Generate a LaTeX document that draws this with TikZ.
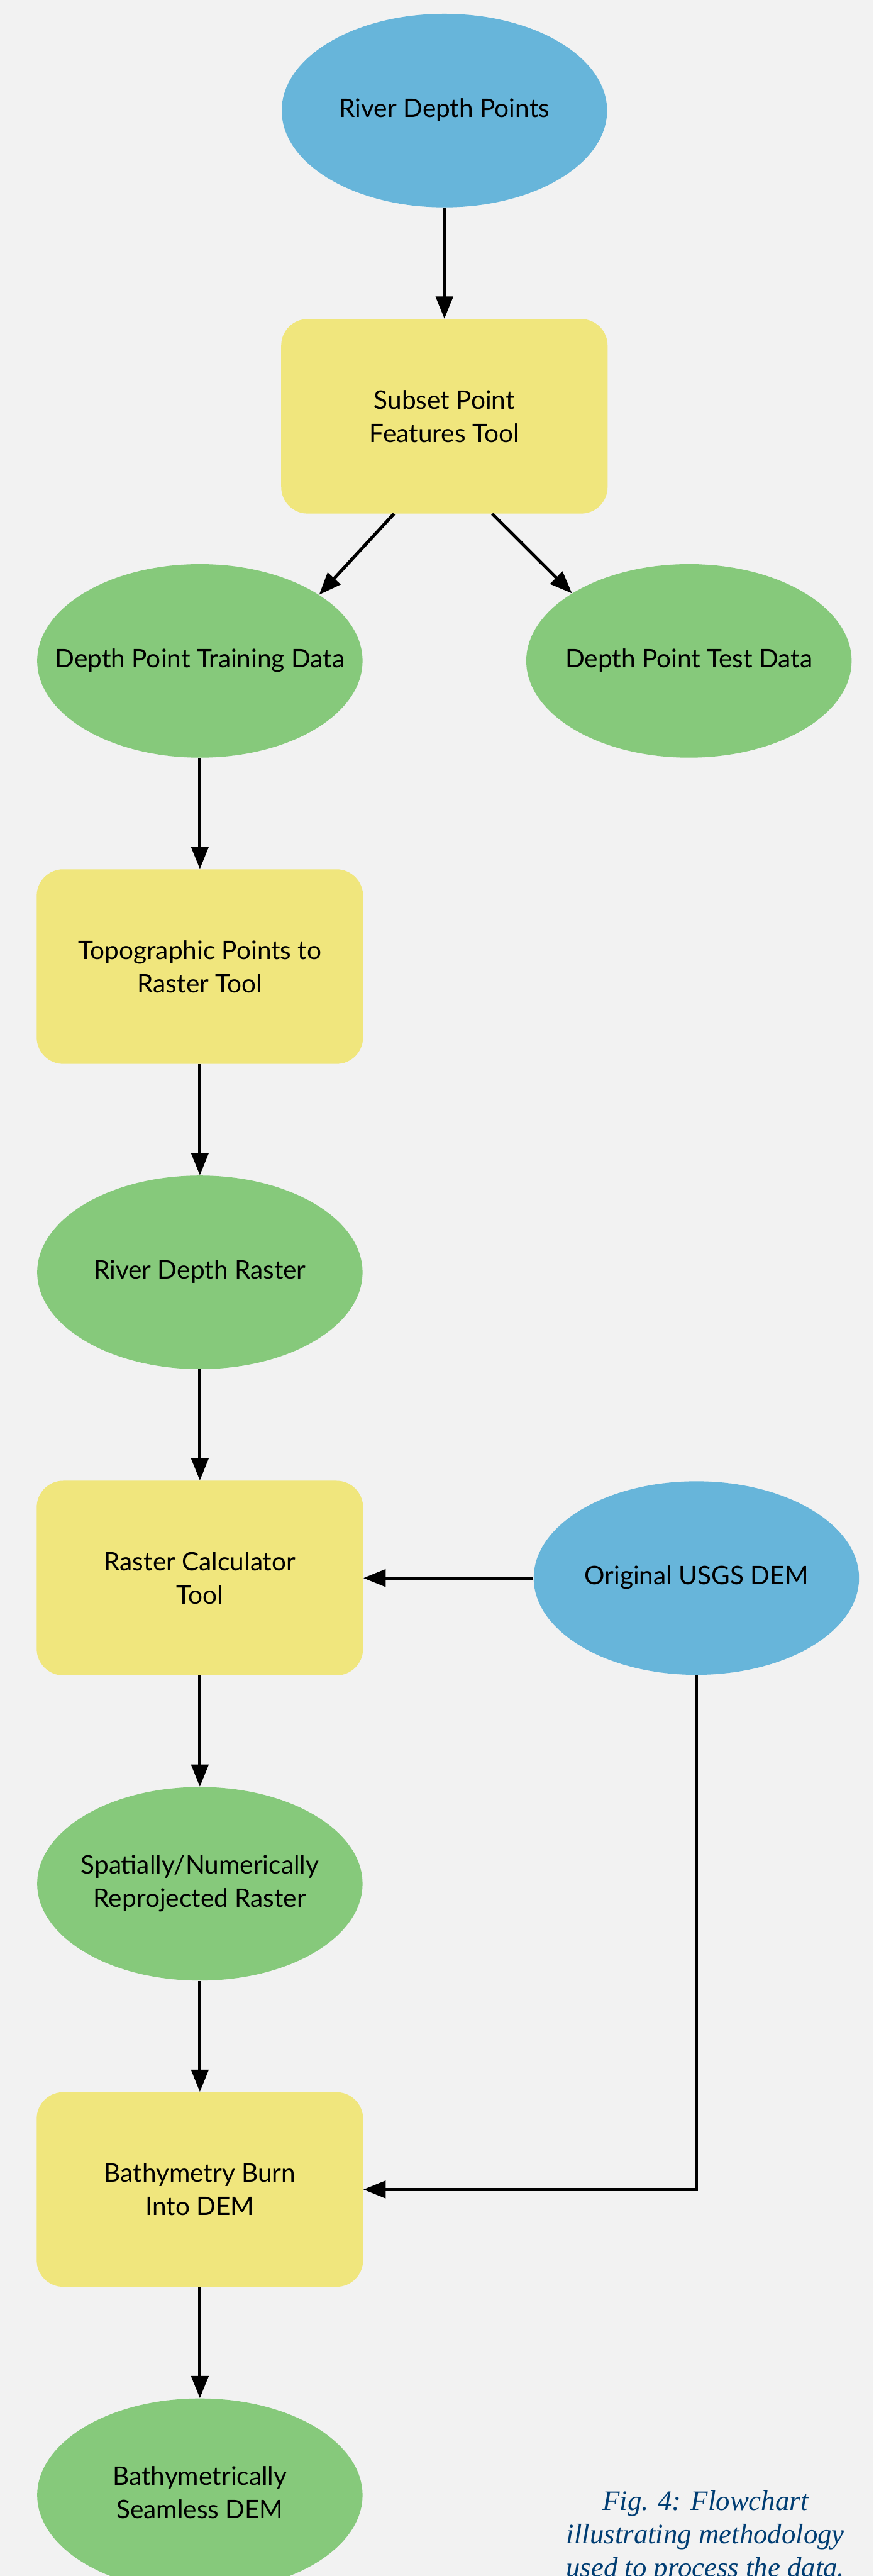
\documentclass[tikz,border=0pt]{standalone}
\usepackage{fontspec}
\setmainfont{Lato}
\newfontfamily\capfont{Liberation Serif}
\usetikzlibrary{arrows.meta,shapes,positioning}

\definecolor{paper}{RGB}{242,242,242}
\definecolor{inblue}{RGB}{103,181,218}
\definecolor{outgreen}{RGB}{134,201,123}
\definecolor{toolyellow}{RGB}{240,230,125}
\definecolor{capblue}{RGB}{0,61,115}

% text that does not widen the ellipse
\newcommand{\ctr}[1]{\makebox[0pt]{\begin{tabular}{@{}c@{}}#1\end{tabular}}}

\begin{document}
\begin{tikzpicture}[>={Triangle[width=16pt,length=21pt]}, node distance=287.5pt, on grid, align=center]

    \tikzstyle{input}=[ellipse, fill=inblue, minimum width=306pt, minimum height=182pt, font=\fontsize{24}{31.5}\selectfont]
    \tikzstyle{output}=[ellipse, fill=outgreen, minimum width=306pt, minimum height=182pt, font=\fontsize{24}{31.5}\selectfont]
    \tikzstyle{tool}=[rectangle, rounded corners=25pt, fill=toolyellow, minimum width=307pt, minimum height=183pt, font=\fontsize{24}{31.5}\selectfont]
    \tikzstyle{flow}=[->, line width=3pt]

    % page
    \fill[paper] (0,0) rectangle (821.5pt,-2422.5pt);
    \useasboundingbox (0,0) rectangle (821.5pt,-2422.5pt);

    \node[input] (RDP) at (418pt,-104pt)                 {\ctr{River Depth Points}};
    \node[tool] (SUB) [below of = RDP]                   {Subset Point\\Features Tool};
    \node[output] (TRN) [below left=230pt and 230pt of SUB]  {\ctr{Depth Point Training Data}};
    \node[output] (TST) [below right=230pt and 230pt of SUB] {\ctr{Depth Point Test Data}};
    \node[tool] (TOP) [below of = TRN]                   {Topographic Points to\\Raster Tool};
    \node[output] (RDR) [below of = TOP]                 {\ctr{River Depth Raster}};
    \node[tool] (CAL) [below of = RDR]                   {Raster Calculator\\Tool};
    \node[input] (DEM) [right=467pt of CAL]              {\ctr{Original USGS DEM}};
    \node[output] (PRJ) [below of = CAL]                 {\ctr{Spatially/Numerically\\Reprojected Raster}};
    \node[tool] (BRN) [below of = PRJ]                   {Bathymetry Burn\\Into DEM};
    \node[output] (SML) [below of = BRN]                 {\ctr{Bathymetrically\\Seamless DEM}};

    \draw[flow] (RDP) -- (SUB);
    \draw[flow] ([xshift=-47.5pt]SUB.south) -- (TRN.29);
    \draw[flow] ([xshift=45pt]SUB.south) -- (TST.150);
    \draw[flow] (TRN) -- (TOP);
    \draw[flow] (TOP) -- (RDR);
    \draw[flow] (RDR) -- (CAL);
    \draw[flow] (DEM) -- (CAL);
    \draw[flow] (CAL) -- (PRJ);
    \draw[flow] (PRJ) -- (BRN);
    \draw[flow] (DEM.south) |- (BRN.east);
    \draw[flow] (BRN) -- (SML);

    \node[anchor=north, inner sep=0pt, text=capblue, font=\capfont\itshape\fontsize{26.5}{31.5}\selectfont] (CAP) at (663.5pt,-2342pt) {Fig. 4: Flowchart\\illustrating methodology\\used to process the data.};
\end{tikzpicture}
\end{document}
